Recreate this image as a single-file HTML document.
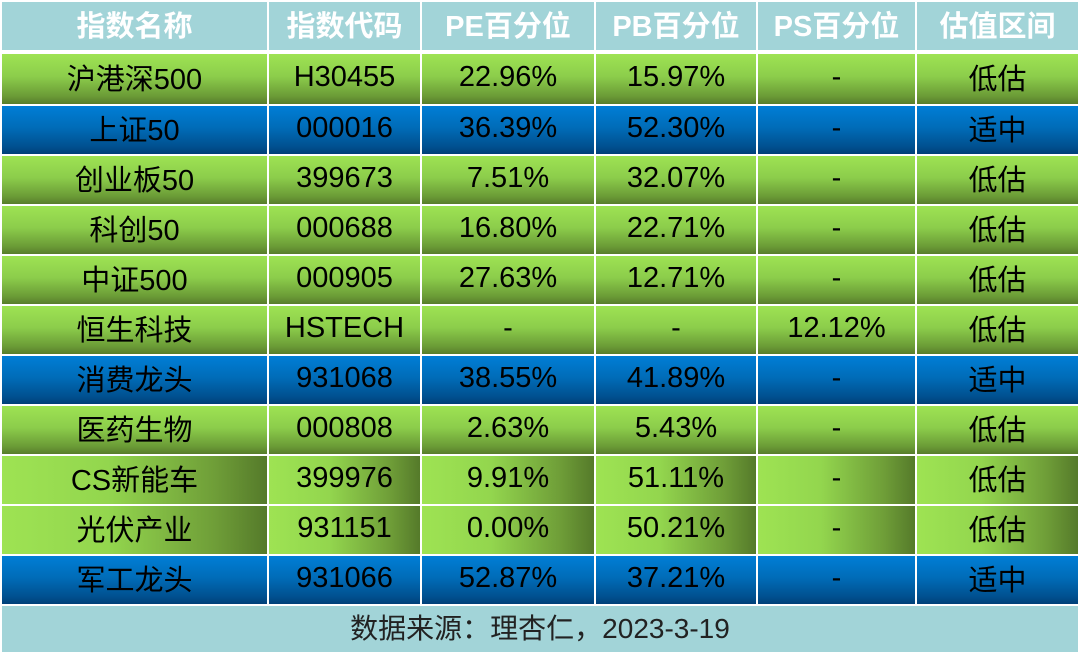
<!DOCTYPE html>
<html><head><meta charset="utf-8"><style>
html,body{margin:0;padding:0;background:#fff;width:1080px;height:654px;overflow:hidden}
.g{position:absolute;left:2px;top:2px;display:grid;grid-template-columns:265px 151px 172px 160px 157px 161px;column-gap:2px;row-gap:2px;
grid-template-rows:50px 50px repeat(10,48px) 46px;
font-family:"Liberation Sans","Noto Sans CJK SC",sans-serif;font-size:29px;color:#000}
.g div{display:flex;align-items:center;justify-content:center;box-sizing:border-box;padding-bottom:4px}
.h{background:#a2d4d8;color:#fff;font-weight:bold;font-size:29px;border-bottom:2px solid #fff;padding-bottom:4px}
.gr{background:linear-gradient(#9ee353 0%,#8ccd4b 45%,#6a9a36 85%,#577d2b 100%)}
.bl{background:linear-gradient(#007ed6 0%,#006cb8 45%,#00508f 85%,#003f78 100%)}
.hz{background:linear-gradient(90deg,#9ee353 0%,#93d64e 40%,#6f9e38 80%,#557a2a 100%)}
.f{grid-column:1/7;background:#a2d4d8;color:#222;font-size:28px}
</style></head><body>
<div class="g">
<div class="h">指数名称</div><div class="h">指数代码</div><div class="h">PE百分位</div><div class="h">PB百分位</div><div class="h">PS百分位</div><div class="h">估值区间</div>
<div class="gr">沪港深500</div><div class="gr">H30455</div><div class="gr">22.96%</div><div class="gr">15.97%</div><div class="gr">-</div><div class="gr">低估</div>
<div class="bl">上证50</div><div class="bl">000016</div><div class="bl">36.39%</div><div class="bl">52.30%</div><div class="bl">-</div><div class="bl">适中</div>
<div class="gr">创业板50</div><div class="gr">399673</div><div class="gr">7.51%</div><div class="gr">32.07%</div><div class="gr">-</div><div class="gr">低估</div>
<div class="gr">科创50</div><div class="gr">000688</div><div class="gr">16.80%</div><div class="gr">22.71%</div><div class="gr">-</div><div class="gr">低估</div>
<div class="gr">中证500</div><div class="gr">000905</div><div class="gr">27.63%</div><div class="gr">12.71%</div><div class="gr">-</div><div class="gr">低估</div>
<div class="gr">恒生科技</div><div class="gr">HSTECH</div><div class="gr">-</div><div class="gr">-</div><div class="gr">12.12%</div><div class="gr">低估</div>
<div class="bl">消费龙头</div><div class="bl">931068</div><div class="bl">38.55%</div><div class="bl">41.89%</div><div class="bl">-</div><div class="bl">适中</div>
<div class="gr">医药生物</div><div class="gr">000808</div><div class="gr">2.63%</div><div class="gr">5.43%</div><div class="gr">-</div><div class="gr">低估</div>
<div class="hz">CS新能车</div><div class="hz">399976</div><div class="hz">9.91%</div><div class="hz">51.11%</div><div class="hz">-</div><div class="hz">低估</div>
<div class="hz">光伏产业</div><div class="hz">931151</div><div class="hz">0.00%</div><div class="hz">50.21%</div><div class="hz">-</div><div class="hz">低估</div>
<div class="bl">军工龙头</div><div class="bl">931066</div><div class="bl">52.87%</div><div class="bl">37.21%</div><div class="bl">-</div><div class="bl">适中</div>
<div class="f">数据来源：理杏仁，2023-3-19</div>
</div>
</body></html>
